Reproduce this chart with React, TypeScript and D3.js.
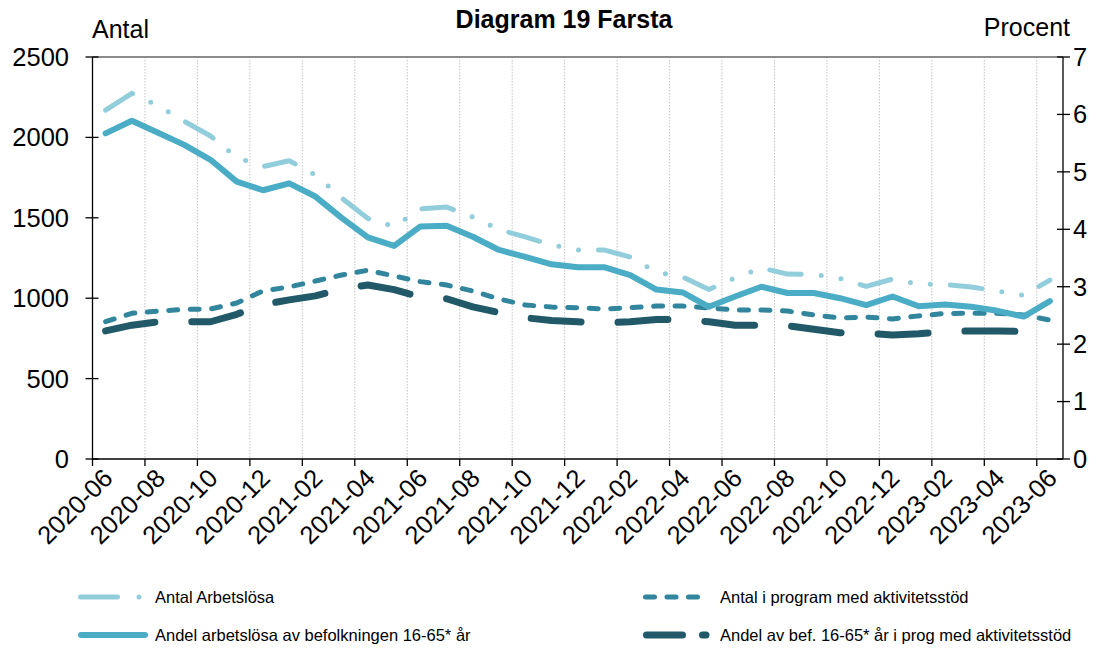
import React from 'react';
import * as d3 from 'd3';

// Months shown on the x axis (one category per month)
const months = [
  '2020-06', '2020-07', '2020-08', '2020-09', '2020-10', '2020-11', '2020-12',
  '2021-01', '2021-02', '2021-03', '2021-04', '2021-05', '2021-06', '2021-07',
  '2021-08', '2021-09', '2021-10', '2021-11', '2021-12', '2022-01', '2022-02',
  '2022-03', '2022-04', '2022-05', '2022-06', '2022-07', '2022-08', '2022-09',
  '2022-10', '2022-11', '2022-12', '2023-01', '2023-02', '2023-03', '2023-04',
  '2023-05', '2023-06'
];

// Left axis (Antal)
const antalArbetslosa = [
  2170, 2274, 2197, 2100, 2009, 1875, 1818, 1855, 1766, 1623, 1496, 1445, 1555,
  1567, 1505, 1427, 1381, 1331, 1300, 1300, 1256, 1163, 1132, 1054, 1126, 1188,
  1150, 1148, 1123, 1073, 1119, 1088, 1085, 1070, 1045, 1017, 1113
];
const antalProgram = [
  854, 906, 920, 930, 933, 970, 1045, 1070, 1107, 1144, 1174, 1138, 1103, 1082,
  1045, 995, 958, 945, 941, 933, 941, 951, 951, 939, 927, 927, 920, 896, 877,
  883, 871, 890, 905, 906, 906, 896, 864
];

// Right axis (Procent)
const andelArbetslosa = [
  5.67, 5.89, 5.68, 5.47, 5.21, 4.83, 4.68, 4.80, 4.57, 4.20, 3.86, 3.71, 4.05,
  4.06, 3.87, 3.64, 3.52, 3.39, 3.34, 3.34, 3.20, 2.95, 2.90, 2.65, 2.83, 3.00,
  2.89, 2.89, 2.80, 2.68, 2.83, 2.66, 2.69, 2.65, 2.58, 2.48, 2.75
];
const andelProgram = [
  2.23, 2.33, 2.39, 2.39, 2.39, 2.52, 2.69, 2.77, 2.84, 2.96, 3.03, 2.95, 2.82,
  2.79, 2.65, 2.55, 2.46, 2.41, 2.39, 2.37, 2.39, 2.43, 2.43, 2.39, 2.33, 2.33,
  2.32, 2.26, 2.20, 2.19, 2.16, 2.18, 2.22, 2.23, 2.23, 2.22, 2.20
];

const leftTicks = [0, 500, 1000, 1500, 2000, 2500];
const rightTicks = [0, 1, 2, 3, 4, 5, 6, 7];

const font = '"Liberation Sans", Arial, sans-serif';

const App = () => {
  const width = 1104;
  const height = 648;
  const plot = { left: 92.5, right: 1063, top: 57, bottom: 459 };

  const x = d3.scaleBand().domain(months).range([plot.left, plot.right]).padding(0);
  const bw = x.bandwidth();
  const yL = d3.scaleLinear().domain([0, 2500]).range([plot.bottom, plot.top]);
  const yR = d3.scaleLinear().domain([0, 7]).range([plot.bottom, plot.top]);

  const cx = (i) => x(months[i]) + bw / 2;
  const mkLine = (vals, y) =>
    d3.line().x((d, i) => cx(i)).y((d) => y(d))(vals);

  // series styles, in drawing order
  const series = [
    { name: 'Antal Arbetslösa', vals: antalArbetslosa, y: yL, color: '#92CDDC', w: 5, dash: '32,20,0,20,0,20' },
    { name: 'Antal i program med aktivitetsstöd', vals: antalProgram, y: yL, color: '#31859C', w: 5, dash: '9,12.5' },
    { name: 'Andel arbetslösa av befolkningen 16-65* år', vals: andelArbetslosa, y: yR, color: '#4BACC6', w: 6, dash: null },
    { name: 'Andel av bef. 16-65* år i prog med aktivitetsstöd', vals: andelProgram, y: yR, color: '#215968', w: 7, dash: '50,37' },
  ];

  // legend placement
  const legend = [
    { s: 0, x1: 80.5, x2: 139.5, dash: '37,21.5,0,100', tx: 155, ty: 597 },
    { s: 1, x1: 645.5, x2: 710, dash: '9,12.5', tx: 720, ty: 597 },
    { s: 2, x1: 81, x2: 145, dash: null, tx: 155, ty: 635 },
    { s: 3, x1: 646.5, x2: 706, dash: '36,20', tx: 720, ty: 635 },
  ];

  const tickIdx = months.map((m, i) => i).filter((i) => i % 2 === 0);

  return (
    <svg width={width} height={height} style={{ position: 'absolute', left: 0, top: 0, background: '#fff' }}
      fontFamily={font}>
      {/* vertical gridlines */}
      {tickIdx.filter((i) => i > 0).map((i) => (
        <line key={'g' + i} x1={x(months[i])} x2={x(months[i])} y1={plot.top} y2={plot.bottom}
          stroke="#C4C4C4" strokeWidth={1} strokeDasharray="1.5,1.5" />
      ))}
      {/* top border */}
      <line x1={plot.left} x2={plot.right} y1={plot.top} y2={plot.top} stroke="#8C8C8C" strokeWidth={2} />

      {/* series */}
      {series.map((s, k) => (
        <path key={'s' + k} d={mkLine(s.vals, s.y)} fill="none" stroke={s.color} strokeWidth={s.w}
          strokeLinecap="round" strokeLinejoin="round" strokeDasharray={s.dash || undefined} />
      ))}

      {/* left axis */}
      <line x1={plot.left} x2={plot.left} y1={plot.top} y2={plot.bottom} stroke="#000" strokeWidth={1.3} />
      {leftTicks.map((t) => (
        <g key={'l' + t}>
          <line x1={plot.left - 7} x2={plot.left + 6} y1={yL(t)} y2={yL(t)} stroke="#000" strokeWidth={1.3} />
          <text x={69} y={yL(t)} dy="0.35em" textAnchor="end" fontSize={25.5}>{t}</text>
        </g>
      ))}
      {/* right axis */}
      <line x1={plot.right} x2={plot.right} y1={plot.top} y2={plot.bottom} stroke="#000" strokeWidth={1.3} />
      {rightTicks.map((t) => (
        <g key={'r' + t}>
          <line x1={plot.right - 6} x2={plot.right + 7} y1={yR(t)} y2={yR(t)} stroke="#000" strokeWidth={1.3} />
          <text x={1073} y={yR(t)} dy="0.35em" textAnchor="start" fontSize={25.5}>{t}</text>
        </g>
      ))}
      {/* bottom axis */}
      <line x1={plot.left} x2={plot.right} y1={plot.bottom} y2={plot.bottom} stroke="#000" strokeWidth={1.5} />
      {tickIdx.map((i) => (
        <line key={'t' + i} x1={x(months[i])} x2={x(months[i])} y1={plot.bottom} y2={plot.bottom + 7}
          stroke="#000" strokeWidth={1.3} />
      ))}
      {tickIdx.map((i) => (
        <text key={'xl' + i} transform={`translate(${cx(i) - 4},${plot.bottom + 8}) rotate(-45)`}
          textAnchor="end" dy="0.7em" fontSize={25.5}>{months[i]}</text>
      ))}

      {/* titles */}
      <text x={564} y={28} textAnchor="middle" fontSize={25} fontWeight="bold">Diagram 19 Farsta</text>
      <text x={92} y={38} fontSize={25}>Antal</text>
      <text x={1070} y={36} textAnchor="end" fontSize={25}>Procent</text>

      {/* legend */}
      {legend.map((l, k) => {
        const s = series[l.s];
        return (
          <g key={'lg' + k}>
            <line x1={l.x1} x2={l.x2} y1={l.ty} y2={l.ty} stroke={s.color} strokeWidth={s.w}
              strokeLinecap="round" strokeDasharray={l.dash || undefined} />
            <text x={l.tx} y={l.ty} dy="0.35em" fontSize={16.5}>{s.name}</text>
          </g>
        );
      })}
    </svg>
  );
};

export default App;
